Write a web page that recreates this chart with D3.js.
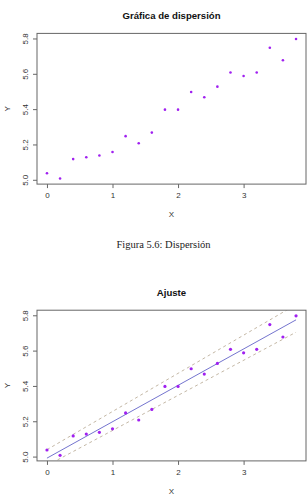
<!DOCTYPE html>
<html>
<head>
<meta charset="utf-8">
<title>Dispersión y ajuste</title>
<script src="https://d3js.org/d3.v7.min.js"></script>
<style>
  body { margin: 0; background: #fff; }
  svg { display: block; }
  .tick text, .lab { font-family: "Liberation Sans", Arial, sans-serif; fill: #333; }
  .ttl { font-family: "Liberation Sans", Arial, sans-serif; font-weight: bold; fill: #111; }
  .cap { font-family: "Liberation Serif", "Times New Roman", serif; fill: #222; }
</style>
</head>
<body>
<svg id="chart"></svg>
<script>
// data
var xs = [0, 0.2, 0.4, 0.6, 0.8, 1.0, 1.2, 1.4, 1.6, 1.8, 2.0, 2.2, 2.4, 2.6, 2.8, 3.0, 3.2, 3.4, 3.6, 3.8];
var ys = [5.04, 5.01, 5.12, 5.13, 5.14, 5.16, 5.25, 5.21, 5.27, 5.40, 5.40, 5.50, 5.47, 5.53, 5.61, 5.59, 5.61, 5.75, 5.68, 5.80];
var xTicks = [0, 1, 2, 3];
var yTicks = [5.0, 5.2, 5.4, 5.6, 5.8];

// fitted line and dashed band, endpoints at x = 0 and x = 3.8
var lineX = [0, 3.8];
var fitY = [4.994, 5.777];
var upperY = [5.042, 5.863];
var lowerY = [4.952, 5.707];

var W = 308, H = 502;
var svg = d3.select("#chart").attr("width", W).attr("height", H);

// R style: extend range 4% on each side
function pad(ext) { var d = (ext[1] - ext[0]) * 0.04; return [ext[0] - d, ext[1] + d]; }

var left = 37, right = 306, ph = 150.7;

var x = d3.scaleLinear().domain(pad(d3.extent(xs))).range([left, right]);

function panel(top, title, fit, idx) {
  var y = d3.scaleLinear().domain(pad(d3.extent(ys))).range([top + ph, top]);
  var g = svg.append("g");

  g.append("text").attr("class", "ttl")
    .attr("x", (left + right) / 2).attr("y", top - 14.5)
    .attr("text-anchor", "middle").attr("font-size", 9.6)
    .text(title);

  // clip for lines
  g.append("clipPath").attr("id", "clip" + idx)
    .append("rect").attr("x", left).attr("y", top).attr("width", right - left).attr("height", ph);

  if (fit) {
    var pts = function(yy) { return lineX.map(function(v, i) { return [x(v), y(yy[i])]; }); };
    var ln = d3.line();
    var lg = g.append("g").attr("clip-path", "url(#clip" + idx + ")");
    lg.append("path").attr("d", ln(pts(upperY))).attr("fill", "none")
      .attr("stroke", "#b4a48e").attr("stroke-width", 0.8).attr("stroke-dasharray", "3,3");
    lg.append("path").attr("d", ln(pts(lowerY))).attr("fill", "none")
      .attr("stroke", "#b4a48e").attr("stroke-width", 0.8).attr("stroke-dasharray", "3,3");
    lg.append("path").attr("d", ln(pts(fitY))).attr("fill", "none")
      .attr("stroke", "#6464c8").attr("stroke-width", 0.9);
  }

  g.selectAll("circle.pt").data(xs).enter().append("circle")
    .attr("class", "pt")
    .attr("cx", function(d) { return x(d); })
    .attr("cy", function(d, i) { return y(ys[i]); })
    .attr("r", fit ? 1.6 : 1.3)
    .attr("fill", "#a020f0");

  // box
  g.append("rect").attr("x", left).attr("y", top).attr("width", right - left).attr("height", ph)
    .attr("fill", "none").attr("stroke", "#666").attr("stroke-width", 1);

  var ax = g.append("g").attr("transform", "translate(0," + (top + ph) + ")")
    .call(d3.axisBottom(x).tickValues(xTicks).tickFormat(d3.format("d")).tickSizeInner(4).tickSizeOuter(0).tickPadding(4));
  ax.select(".domain").remove();
  ax.selectAll("line").attr("stroke", "#666");
  ax.selectAll("text").attr("font-size", 8);

  var ay = g.append("g").attr("transform", "translate(" + left + ",0)")
    .call(d3.axisLeft(y).tickValues(yTicks).tickFormat(d3.format(".1f")).tickSizeInner(4).tickSizeOuter(0));
  ay.select(".domain").remove();
  ay.selectAll("line").attr("stroke", "#666");
  ay.selectAll("text").attr("font-size", 8)
    .attr("text-anchor", "middle")
    .attr("transform", function(d) { return "translate(-12," + y(d) + ") rotate(-90)"; })
    .attr("x", 0).attr("y", 0).attr("dy", "0.35em");
  ay.selectAll(".tick").attr("transform", null);
  ay.selectAll(".tick line").attr("transform", function(d) { return "translate(0," + y(d) + ")"; });

  g.append("text").attr("class", "lab")
    .attr("x", (left + right) / 2).attr("y", top + ph + 33)
    .attr("text-anchor", "middle").attr("font-size", 8).text("X");
  g.append("text").attr("class", "lab")
    .attr("transform", "translate(10," + (top + ph / 2) + ") rotate(-90)")
    .attr("text-anchor", "middle").attr("font-size", 8).text("Y");
}

panel(33.4, "Gráfica de dispersión", false, 1);

svg.append("text").attr("class", "cap")
  .attr("x", 163.5).attr("y", 247.5)
  .attr("text-anchor", "middle").attr("font-size", 10.5)
  .text("Figura 5.6: Dispersión");

panel(310.2, "Ajuste", true, 2);
</script>
</body>
</html>
